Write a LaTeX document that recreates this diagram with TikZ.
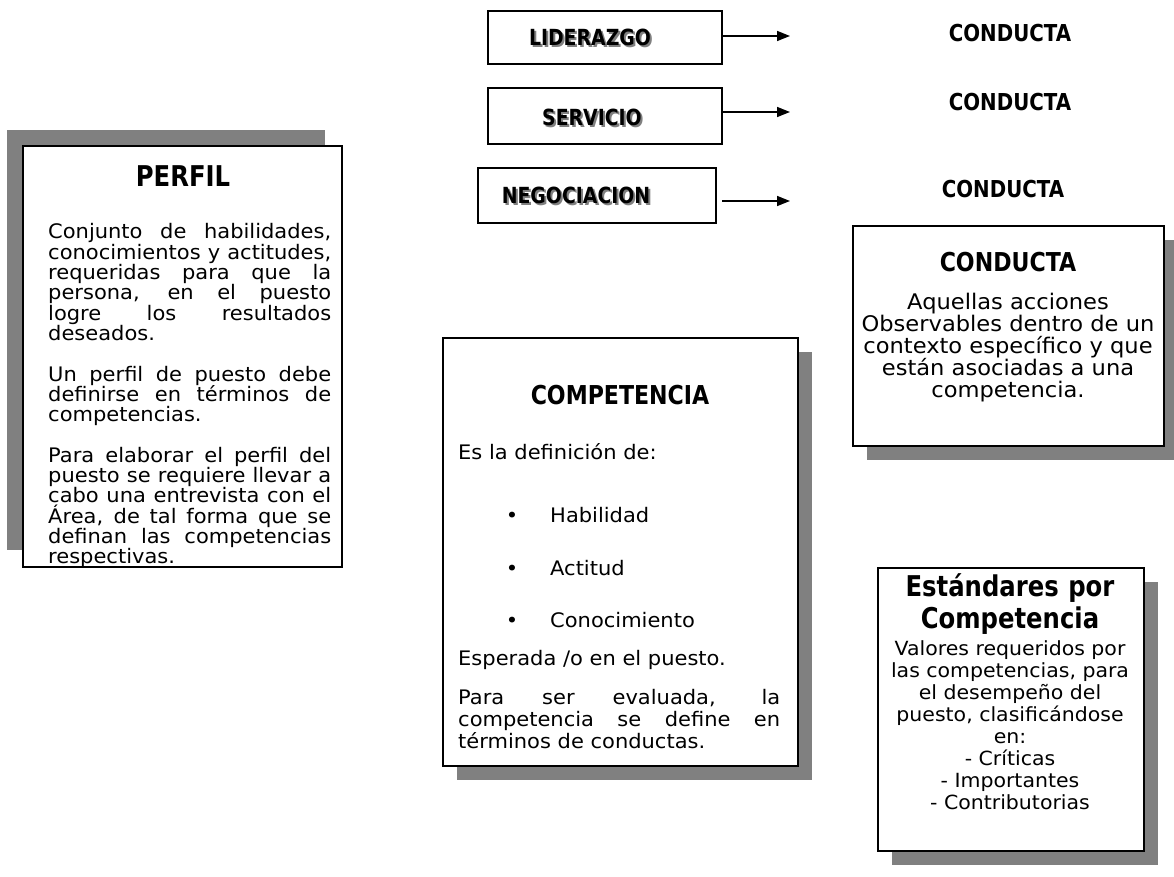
\documentclass[tikz,border=0pt]{standalone}
\usepackage{fontspec}
\setmainfont{DejaVu Sans}[FakeStretch=1.05]
\newfontfamily\titlefont{DejaVu Sans}[FakeStretch=0.85]
\usetikzlibrary{arrows.meta}
\definecolor{shadowgray}{HTML}{808080}
\begin{document}
\begin{tikzpicture}[x=1pt,y=-1pt,
  frame/.style={draw=black, line width=2pt, fill=white, inner sep=0pt, anchor=north west},
  shade/.style={fill=shadowgray},
  ttl/.style={font=\titlefont\bfseries\fontsize{26}{30}\selectfont, inner sep=0pt},
  body/.style={font=\fontsize{20}{20.3}\selectfont, inner sep=0pt},
  tag/.style={font=\titlefont\bfseries\fontsize{22.2}{24}\selectfont, inner sep=0pt},
  lbl/.style={font=\titlefont\bfseries\fontsize{23.3}{24}\selectfont, inner sep=0pt},
  tagshadow/.style={tag, text=shadowgray},
  link/.style={line width=1.5pt, -{Triangle[length=13pt,width=10pt]}}
]
\useasboundingbox (0,0) rectangle (1174,877);

% ---------- top row ----------
\node[frame, minimum width=234, minimum height=53] (lid) at (487,10) {};
\node[tagshadow] at (592,39) {LIDERAZGO};
\node[tag] (lidT) at (590,37) {LIDERAZGO};
\node[lbl] (c1) at (1010,33) {CONDUCTA};
\coordinate (a1) at (790,36);
\draw[link] (lid.east |- a1) -- (a1);

\node[frame, minimum width=234, minimum height=56] (ser) at (487,87) {};
\node[tagshadow] at (594,119) {SERVICIO};
\node[tag] (serT) at (592,117) {SERVICIO};
\node[lbl] (c2) at (1010,102) {CONDUCTA};
\coordinate (a2) at (790,112);
\draw[link] (ser.east |- a2) -- (a2);

\node[frame, minimum width=238, minimum height=55] (neg) at (477,167) {};
\node[tagshadow] at (578,197) {NEGOCIACION};
\node[tag] (negT) at (576,195) {NEGOCIACION};
\node[lbl] (c3) at (1003,189) {CONDUCTA};
\coordinate (n0) at (722,201);
\coordinate (a3) at (790,201);
\draw[link] (n0) -- (a3);

% ---------- PERFIL ----------
\fill[shade] (7,130) rectangle (325,550);
\node[frame, minimum width=319, minimum height=421] (perfil) at (22,145) {};
\node[ttl, font=\titlefont\bfseries\fontsize{28.6}{30}\selectfont] (perfilT) at (183,176) {PERFIL};
\node[body, text width=283, align=justify, anchor=base west] (perfilB) at (48,239) {%
Conjunto de habilidades,\linebreak
conocimientos y actitudes,\linebreak
requeridas para que la\linebreak
persona, en el puesto\linebreak
logre los resultados\linebreak
deseados.\par\vspace{20.3pt}
Un perfil de puesto debe\linebreak
definirse en términos de\linebreak
competencias.\par\vspace{20.3pt}
Para elaborar el perfil del\linebreak
puesto se requiere llevar a\linebreak
cabo una entrevista con el\linebreak
Área, de tal forma que se\linebreak
definan las competencias\linebreak
respectivas.};

% ---------- COMPETENCIA ----------
\fill[shade] (457,352) rectangle (812,780);
\node[frame, minimum width=355, minimum height=428] (comp) at (442,337) {};
\node[ttl] (compT) at (620,395) {COMPETENCIA};
\node[body, anchor=base west] (es) at (458,459) {Es la definición de:};
\node[body, anchor=base] (b1) at (512,522) {•};
\node[body, anchor=base west] (hab) at (550,522) {Habilidad};
\node[body, anchor=base] (b2) at (512,575) {•};
\node[body, anchor=base west] (act) at (550,575) {Actitud};
\node[body, anchor=base] (b3) at (512,627) {•};
\node[body, anchor=base west] (con) at (550,627) {Conocimiento};
\node[body, anchor=base west] (esp) at (458,665) {Esperada /o en el puesto.};
\node[body, text width=322, align=justify, anchor=base west, font=\fontsize{20}{22}\selectfont] (eval) at (458,704) {%
Para ser evaluada, la\linebreak
competencia se define en\linebreak
términos de conductas.};

% ---------- CONDUCTA ----------
\fill[shade] (867,240) rectangle (1174,460);
\node[frame, minimum width=311, minimum height=220] (cond) at (852,225) {};
\node[ttl] (condT) at (1008,262) {CONDUCTA};
\node[body, text width=311, align=center, anchor=base, font=\fontsize{21.5}{22}\selectfont] (condB) at (1008,309) {%
Aquellas acciones\\
Observables dentro de un\\
contexto específico y que\\
están asociadas a una\\
competencia.};

% ---------- ESTANDARES ----------
\fill[shade] (892,582) rectangle (1158,865);
\node[frame, minimum width=266, minimum height=283] (est) at (877,567) {};
\node[ttl, text width=266, align=center, anchor=base, font=\titlefont\bfseries\fontsize{28.6}{32}\selectfont] (estT) at (1010,596) {%
Estándares por\\
Competencia};
\node[body, text width=266, align=center, anchor=base, font=\fontsize{19.5}{22}\selectfont] (estB) at (1010,655) {%
Valores requeridos por\\
las competencias, para\\
el desempeño del\\
puesto, clasificándose\\
en:\\
- Críticas\\
- Importantes\\
- Contributorias};
\end{tikzpicture}
\end{document}
